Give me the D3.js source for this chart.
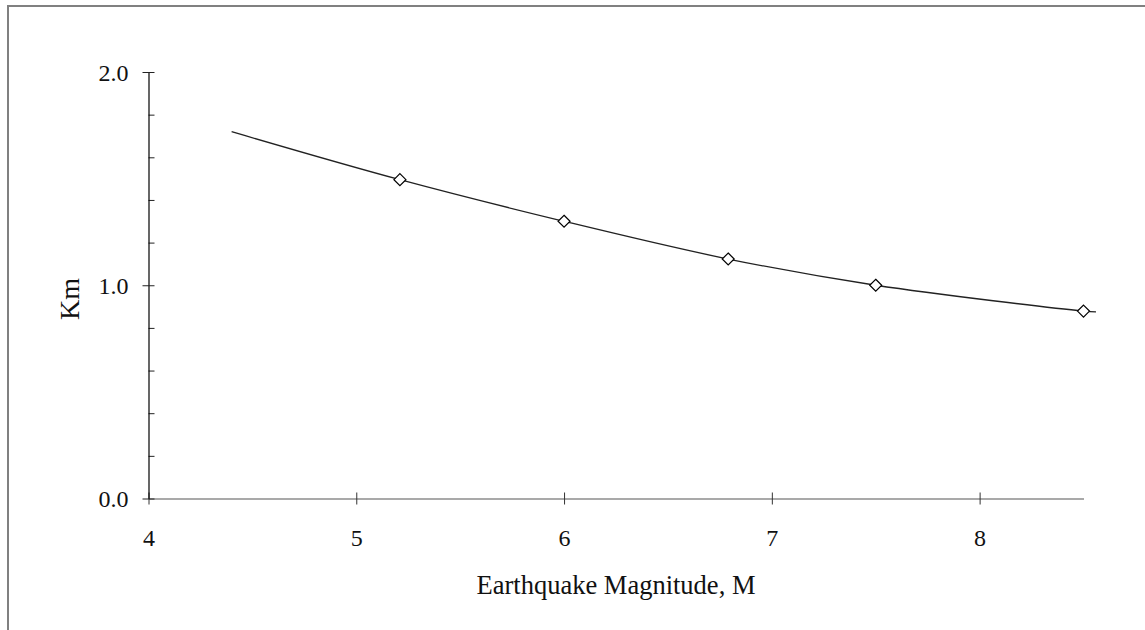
<!DOCTYPE html>
<html><head><meta charset="utf-8">
<script src="https://cdn.jsdelivr.net/npm/d3@7"></script>
<style>html,body{margin:0;padding:0;background:#fff}svg{display:block}</style>
</head><body><svg id="c" width="1145" height="630"></svg>
<script>
// Data
const curveM = [4.4, 5.21, 6.0, 6.79, 7.5, 8.5, 8.56];
const curveKm = [1.72, 1.495, 1.30, 1.123, 1.0, 0.879, 0.875];
const pointM = [5.21, 6.0, 6.79, 7.5, 8.5];
const pointKm = [1.495, 1.30, 1.123, 1.0, 0.879];
const xTicks = [4, 5, 6, 7, 8];
const yMajor = [0, 1, 2];
const yMinor = [0.2, 0.4, 0.6, 0.8, 1.2, 1.4, 1.6, 1.8];
const xTitle = "Earthquake Magnitude, M";
const yTitle = "Km";

const svg = d3.select("#c");
const font = "'Liberation Serif','Times New Roman',serif";

svg.append("rect").attr("x", 8).attr("y", 6).attr("width", 1160).attr("height", 650)
  .attr("fill", "none").attr("stroke", "#808080").attr("stroke-width", 2);

const x = d3.scaleLinear().domain([4, 8.5]).range([148.5, 1083.5]);
const y = d3.scaleLinear().domain([0, 2]).range([498.5, 72]);

// x axis
const xa = svg.append("g").attr("transform", `translate(0,${y(0)})`)
  .call(d3.axisBottom(x).tickValues(xTicks).tickFormat(d3.format("d")).tickSize(6).tickSizeOuter(0));
xa.select(".domain").attr("stroke", "#555").attr("stroke-width", 1.2);
xa.selectAll(".tick line").attr("y1", -6).attr("y2", 6).attr("stroke", "#333");
xa.selectAll(".tick text").attr("font-family", font).attr("font-size", 24).attr("fill", "#111").attr("dy", 0).attr("y", 47);

// y axis minor
const yminor = svg.append("g").attr("transform", `translate(${x(4)},0)`)
  .call(d3.axisRight(y).tickValues(yMinor).tickSize(6).tickFormat(""));
yminor.select(".domain").remove();
yminor.selectAll(".tick line").attr("stroke", "#222");

// y axis major
const ya = svg.append("g").attr("transform", `translate(${x(4)},0)`)
  .call(d3.axisLeft(y).tickValues(yMajor).tickFormat(d3.format(".1f")).tickSize(6).tickSizeOuter(0));
ya.select(".domain").attr("stroke", "#000").attr("stroke-width", 1.2);
ya.selectAll(".tick line").attr("x1", 6).attr("x2", -6).attr("stroke", "#222");
ya.selectAll(".tick text").attr("font-family", font).attr("font-size", 24).attr("fill", "#111").attr("x", -20).attr("dy", "0.35em");

// curve
const pts = curveM.map((m, i) => [m, curveKm[i]]);
svg.append("path").datum(pts)
  .attr("d", d3.line().x(d => x(d[0])).y(d => y(d[1])).curve(d3.curveCatmullRom))
  .attr("fill", "none").attr("stroke", "#222").attr("stroke-width", 1.3);

// markers
const mk = pointM.map((m, i) => [m, pointKm[i]]);
svg.append("g").selectAll("path").data(mk).join("path")
  .attr("transform", d => `translate(${x(d[0])},${y(d[1])})`)
  .attr("d", "M0,-6L6,0L0,6L-6,0Z")
  .attr("fill", "#fff").attr("stroke", "#000").attr("stroke-width", 1.2);

// titles
svg.append("text").attr("x", (x(4) + x(8.5)) / 2).attr("y", 594).attr("text-anchor", "middle")
  .attr("font-family", font).attr("font-size", 26.5).attr("fill", "#111").text(xTitle);
svg.append("text").attr("transform", `translate(79,${299}) rotate(-90)`).attr("text-anchor", "middle")
  .attr("font-family", font).attr("font-size", 28).attr("fill", "#111").text(yTitle);
</script></body></html>
